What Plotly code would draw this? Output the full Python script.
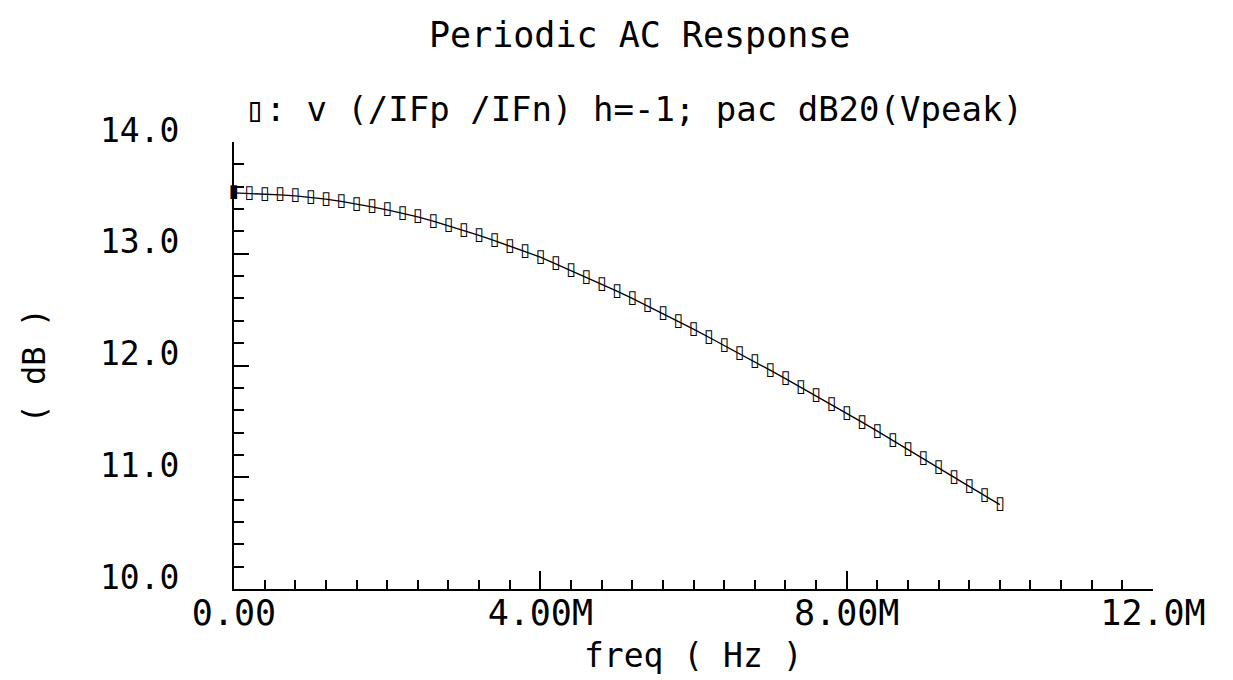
import plotly.graph_objects as go

# ---- data ----
freq_mhz = [0.0, 0.2, 0.4, 0.6, 0.8, 1.0, 1.2, 1.4, 1.6, 1.8,
            2.0, 2.2, 2.4, 2.6, 2.8, 3.0, 3.2, 3.4, 3.6, 3.8,
            4.0, 4.2, 4.4, 4.6, 4.8, 5.0, 5.2, 5.4, 5.6, 5.8,
            6.0, 6.2, 6.4, 6.6, 6.8, 7.0, 7.2, 7.4, 7.6, 7.8,
            8.0, 8.2, 8.4, 8.6, 8.8, 9.0, 9.2, 9.4, 9.6, 9.8, 10.0]
gain_db = [13.545, 13.540, 13.533, 13.526, 13.518, 13.506, 13.489, 13.468, 13.445, 13.420,
           13.392, 13.362, 13.330, 13.292, 13.250, 13.208, 13.164, 13.117, 13.068, 13.020,
           12.970, 12.910, 12.850, 12.790, 12.728, 12.665, 12.600, 12.533, 12.465, 12.395,
           12.325, 12.253, 12.181, 12.108, 12.033, 11.958, 11.883, 11.806, 11.729, 11.652,
           11.573, 11.493, 11.413, 11.332, 11.250, 11.167, 11.084, 11.001, 10.918, 10.835, 10.755]

x_tick_vals = [0, 4e6, 8e6, 12e6]
x_tick_text = ["0.00", "4.00M", "8.00M", "12.0M"]
y_tick_vals = [10, 11, 12, 13, 14]
y_tick_text = ["10.0", "11.0", "12.0", "13.0", "14.0"]

title_text = "Periodic AC Response"
trace_label = "\u25af: v (/IFp /IFn) h=-1; pac dB20(Vpeak)"
x_title = "freq ( Hz )"
y_title = "( dB )"

FONT = "DejaVu Sans Mono"
freq_hz = [f * 1e6 for f in freq_mhz]
marker_glyphs = ["\u25ae"] + ["\u25af"] * (len(freq_hz) - 1)

fig = go.Figure()
fig.add_trace(go.Scatter(
    x=freq_hz, y=gain_db,
    mode="lines+text",
    text=marker_glyphs,
    textposition="middle center",
    textfont=dict(family="DejaVu Sans", size=18, color="black", weight="bold"),
    line=dict(color="black", width=1.3),
    showlegend=False,
    cliponaxis=False,
    hoverinfo="x+y",
))

axis_common = dict(
    showline=True, linecolor="black", linewidth=2,
    showgrid=False, zeroline=False,
    ticks="inside", tickcolor="black", tickwidth=2,
    mirror=False,
)

# page body has an 8px default margin, so the figure is sized to fit the window
fig.update_layout(
    width=1225, height=672,
    margin=dict(l=226, r=80, t=134, b=91),
    paper_bgcolor="white", plot_bgcolor="white",
    font=dict(family=FONT, color="black"),
    xaxis=dict(
        range=[0, 12e6], tickvals=x_tick_vals, ticktext=x_tick_text,
        ticklen=18, tickfont=dict(size=35, family=FONT, color="black"),
        ticklabelstandoff=-8,
        minor=dict(ticks="inside", ticklen=9, tickwidth=2, tickcolor="black",
                   dtick=0.4e6, tick0=0, showgrid=False),
        **axis_common,
    ),
    yaxis=dict(
        range=[10, 14], tickvals=y_tick_vals, ticktext=y_tick_text,
        ticklen=15, tickfont=dict(size=33, family=FONT, color="black"),
        ticklabelstandoff=46, ticklabelshift=-12,
        minor=dict(ticks="inside", ticklen=10, tickwidth=2, tickcolor="black",
                   dtick=0.2, tick0=10, showgrid=False),
        **axis_common,
    ),
    annotations=[
        dict(text=title_text, xref="paper", yref="paper",
             x=(639 - 234) / 919, y=(589 - 35) / 447,
             xanchor="center", yanchor="middle", showarrow=False,
             font=dict(size=35, family=FONT, color="black")),
        dict(text=trace_label, xref="paper", yref="paper",
             x=(243 - 234) / 919, y=(589 - 109) / 447,
             xanchor="left", yanchor="middle", showarrow=False,
             font=dict(size=34, family=FONT, color="black")),
        dict(text=x_title, xref="paper", yref="paper",
             x=0.5, y=(589 - 655) / 447,
             xanchor="center", yanchor="middle", showarrow=False,
             font=dict(size=33, family=FONT, color="black")),
        dict(text=y_title, xref="paper", yref="paper",
             x=(33 - 234) / 919, y=0.5, textangle=-90,
             xanchor="center", yanchor="middle", showarrow=False,
             font=dict(size=32, family=FONT, color="black")),
    ],
)

fig.write_html("out.html")
